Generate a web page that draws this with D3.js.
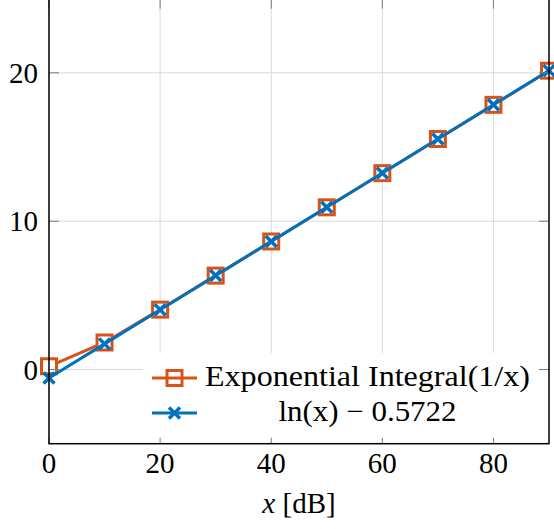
<!DOCTYPE html>
<html><head><meta charset="utf-8">
<script src="https://cdn.jsdelivr.net/npm/d3@7"></script>
<style>body{margin:0;background:#fff}svg{display:block}text{font-family:"Liberation Serif","Times New Roman",serif;fill:#000}</style>
</head><body><svg id="c" width="554" height="529"></svg>
<script>
const xDB = [0,10,20,30,40,50,60,70,80,90];
const expInt = [0.2194,1.8229,4.0379,6.3315,8.6332,10.9357,13.2383,15.5409,17.8435,20.1460];
const lnApprox = [-0.5722,1.7304,4.0330,6.3356,8.6382,10.9408,13.2434,15.5459,17.8485,20.1511];
const xTicks = [0,20,40,60,80];
const yTicks = [0,10,20];
const seriesNames = ["Exponential Integral(1/x)", "ln(x) \u2212 0.5722"];
const colors = ["#D95319","#0072BD"];

const svg = d3.select("#c");
const L=49, R=549, T=-1.3, B=443.7;
const x = d3.scaleLinear().domain([0,90]).range([L,R]);
const y = d3.scaleLinear().domain([-5,25]).range([B,T]);
const FS = 29;

// grid
const g = svg.append("g");
g.selectAll(".gx").data(xTicks).enter().append("line")
 .attr("x1",d=>x(d)).attr("x2",d=>x(d)).attr("y1",T).attr("y2",B)
 .attr("stroke","#d9d9d9").attr("stroke-width",1);
g.selectAll(".gy").data(yTicks).enter().append("line")
 .attr("y1",d=>y(d)).attr("y2",d=>y(d)).attr("x1",L).attr("x2",R)
 .attr("stroke","#d9d9d9").attr("stroke-width",1);

function drawMarker(sel, cx, cy, color, marker, fill){
  if(marker==="square"){
    sel.append("rect").attr("x",cx-7.5).attr("y",cy-7.5).attr("width",15).attr("height",15)
      .attr("fill",fill).attr("stroke",color).attr("stroke-width",3);
  } else {
    const s=5.5;
    sel.append("path").attr("d",`M${cx-s},${cy-s}L${cx+s},${cy+s}M${cx-s},${cy+s}L${cx+s},${cy-s}`)
      .attr("stroke",color).attr("stroke-width",3.5).attr("fill","none");
  }
}
function drawSeries(vals, color, marker){
  const line = d3.line().x((d,i)=>x(xDB[i])).y(d=>y(d));
  svg.append("path").datum(vals).attr("d",line).attr("fill","none")
    .attr("stroke",color).attr("stroke-width",3).attr("stroke-linejoin","round");
  const m = svg.append("g");
  vals.forEach((v,i)=>drawMarker(m, x(xDB[i]), y(v), color, marker, "#fff"));
}
drawSeries(expInt, colors[0], "square");
drawSeries(lnApprox, colors[1], "x");

// legend
const lg = svg.append("g");
lg.append("rect").attr("x",143).attr("y",353).attr("width",R-143).attr("height",B-353).attr("fill","#fff");
const rowsY=[378,413];
const markers=["square","x"];
const lens=[325,178];
seriesNames.forEach((n,i)=>{
  lg.append("line").attr("x1",152).attr("x2",197).attr("y1",rowsY[i]).attr("y2",rowsY[i])
    .attr("stroke",colors[i]).attr("stroke-width",3);
  drawMarker(lg,174.5,rowsY[i],colors[i],markers[i],"none");
  lg.append("text").attr("x",367.5).attr("y",rowsY[i]+8).attr("text-anchor","middle")
    .attr("font-size",FS).attr("textLength",lens[i]).attr("lengthAdjust","spacingAndGlyphs").text(n);
});

// ticks (inward)
const tk = svg.append("g").attr("stroke","#7a7a7a").attr("stroke-width",1);
xTicks.forEach(d=>{
  tk.append("line").attr("x1",x(d)).attr("x2",x(d)).attr("y1",B).attr("y2",B-6);
  tk.append("line").attr("x1",x(d)).attr("x2",x(d)).attr("y1",T).attr("y2",T+10);
});
yTicks.forEach(d=>{
  tk.append("line").attr("x1",L).attr("x2",L+10).attr("y1",y(d)).attr("y2",y(d));
  tk.append("line").attr("x1",R).attr("x2",R-10).attr("y1",y(d)).attr("y2",y(d));
});

// axis box
svg.append("rect").attr("x",L).attr("y",T).attr("width",R-L).attr("height",B-T)
  .attr("fill","none").attr("stroke","#000").attr("stroke-width",1.5);

// tick labels
svg.selectAll(".xl").data(xTicks).enter().append("text")
  .attr("x",d=>x(d)).attr("y",473).attr("text-anchor","middle").attr("font-size",FS).text(d=>d);
svg.selectAll(".yl").data(yTicks).enter().append("text")
  .attr("x",38).attr("y",d=>y(d)+10).attr("text-anchor","end").attr("font-size",FS).text(d=>d);

// axis label
const xl = svg.append("text").attr("x",(L+R)/2).attr("y",513).attr("text-anchor","middle").attr("font-size",FS);
xl.append("tspan").attr("font-style","italic").text("x");
xl.append("tspan").text(" [dB]");
</script></body></html>
